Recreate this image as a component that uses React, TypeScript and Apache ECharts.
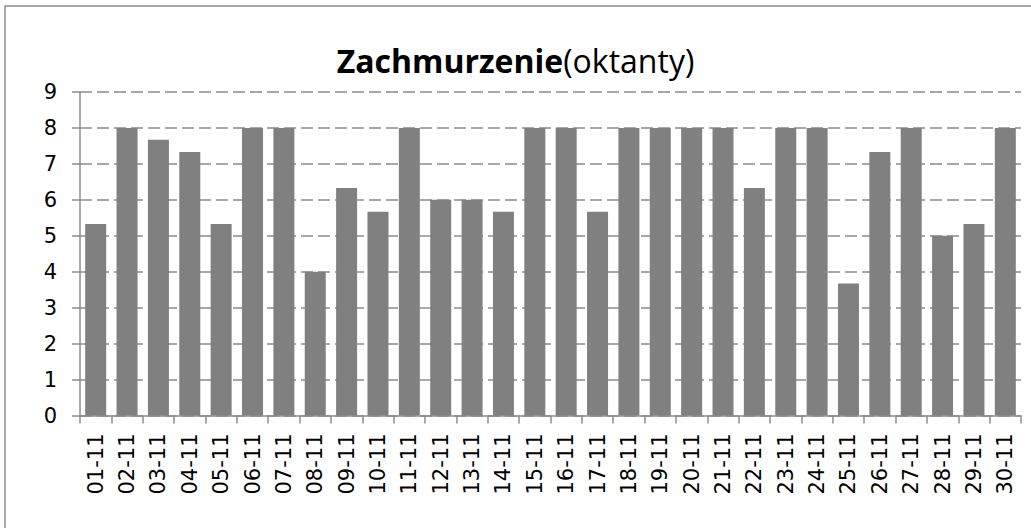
import React, { useEffect, useRef } from "react";
import * as echarts from "echarts";

const categories = [
  "01-11", "02-11", "03-11", "04-11", "05-11", "06-11", "07-11", "08-11", "09-11", "10-11",
  "11-11", "12-11", "13-11", "14-11", "15-11", "16-11", "17-11", "18-11", "19-11", "20-11",
  "21-11", "22-11", "23-11", "24-11", "25-11", "26-11", "27-11", "28-11", "29-11", "30-11",
];

const cloudCover = [
  5.33, 8, 7.67, 7.33, 5.33, 8, 8, 4, 6.33, 5.67,
  8, 6, 6, 5.67, 8, 8, 5.67, 8, 8, 8,
  8, 6.33, 8, 8, 3.67, 7.33, 8, 5, 5.33, 8,
];

const titleBold = "Zachmurzenie";
const titleNormal = "(oktanty)";

const TITLE_FONT = "'Open Sans', 'Noto Sans', sans-serif";
const LABEL_FONT = "'DejaVu Sans', 'Noto Sans', sans-serif";

export default function App() {
  const ref = useRef<HTMLDivElement>(null);
  useEffect(() => {
    if (!ref.current) return;
    const chart = echarts.init(ref.current, undefined, { renderer: "svg" });
    chart.setOption({
      animation: false,
      backgroundColor: "#ffffff",
      title: {
        text: `{b|${titleBold}}{n|${titleNormal}}`,
        left: "center",
        top: 39,
        textStyle: {
          rich: {
            b: { fontFamily: TITLE_FONT, fontSize: 32, fontWeight: "bold", color: "#000" },
            n: { fontFamily: TITLE_FONT, fontSize: 32, fontWeight: "normal", color: "#000" },
          },
        },
      },
      graphic: [
        {
          type: "rect",
          shape: { x: 5, y: 6, width: 1040, height: 540 },
          style: { fill: "none", stroke: "#8c8c8c", lineWidth: 1.5 },
          silent: true,
          z: -1,
        },
      ],
      grid: { left: 80, right: 10, top: 92, bottom: 112.5, containLabel: false },
      xAxis: {
        type: "category",
        data: categories,
        boundaryGap: true,
        axisLine: { show: true, lineStyle: { color: "#8c8c8c", width: 1.5 } },
        axisTick: { show: true, alignWithLabel: false, length: 8, lineStyle: { color: "#8c8c8c", width: 1.5 } },
        axisLabel: {
          rotate: 90,
          interval: 0,
          margin: 18,
          fontFamily: LABEL_FONT,
          fontSize: 21,
          color: "#000",
        },
        splitLine: { show: false },
      },
      yAxis: {
        type: "value",
        min: 0,
        max: 9,
        interval: 1,
        axisLine: { show: true, lineStyle: { color: "#8c8c8c", width: 1.5 } },
        axisTick: { show: true, length: 8, lineStyle: { color: "#8c8c8c", width: 1.5 } },
        axisLabel: { margin: 23, fontFamily: LABEL_FONT, fontSize: 21, color: "#000" },
        splitLine: {
          show: true,
          lineStyle: { color: "#8c8c8c", width: 1.5, type: [12, 5] },
        },
      },
      series: [
        {
          type: "bar",
          data: cloudCover,
          barWidth: 21,
          itemStyle: { color: "#808080" },
        },
      ],
    });
    return () => chart.dispose();
  }, []);
  return (
    <div
      ref={ref}
      style={{ position: "absolute", left: 0, top: 0, width: 1031, height: 528 }}
    />
  );
}
